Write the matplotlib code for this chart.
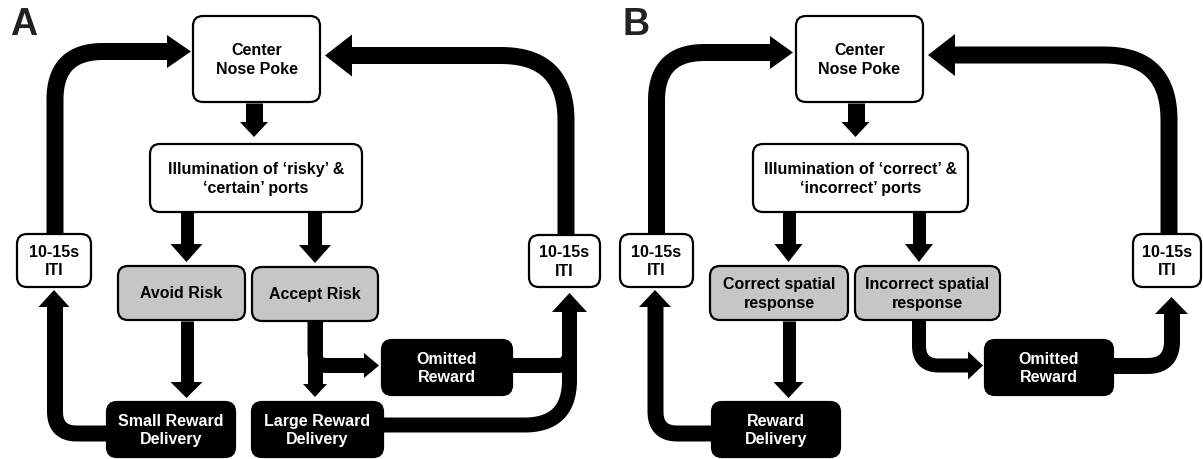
import matplotlib.pyplot as plt
from matplotlib.patches import FancyBboxPatch, Polygon
import numpy as np

plt.rcParams['font.family'] = ['Liberation Sans', 'DejaVu Sans']

W, H = 1203, 459
GRAY = '#c6c6c6'

# box labels, panel A and panel B
labels_a = ["Center\nNose Poke", "Illumination of \u2018risky\u2019 &\n\u2018certain\u2019 ports",
            "Avoid Risk", "Accept Risk", "Small Reward\nDelivery", "Large Reward\nDelivery",
            "Omitted\nReward", "10-15s\nITI", "10-15s\nITI"]
labels_b = ["Center\nNose Poke", "Illumination of \u2018correct\u2019 &\n\u2018incorrect\u2019 ports",
            "Correct spatial\nresponse", "Incorrect spatial\nresponse", "Reward\nDelivery",
            "Omitted\nReward", "10-15s\nITI", "10-15s\nITI"]
panel_letters = ["A", "B"]

fig = plt.figure(figsize=(W / 100, H / 100), dpi=100)
ax = fig.add_axes([0, 0, 1, 1])
ax.set_xlim(0, W)
ax.set_ylim(H, 0)
ax.axis('off')


def box(x0, y0, x1, y1, text, fill='white'):
    p = FancyBboxPatch((x0, y0), x1 - x0, y1 - y0,
                       boxstyle="round,pad=0,rounding_size=10",
                       fc=fill, ec='black', lw=1.6, zorder=3)
    ax.add_patch(p)
    tc = 'white' if fill == 'black' else 'black'
    ax.text((x0 + x1) / 2, (y0 + y1) / 2 + 1, text, ha='center', va='center',
            fontsize=11.5, fontweight='bold', color=tc, linespacing=1.3, zorder=4)


def head(tip, direction, length, width):
    d = np.array(direction, float)
    d /= np.linalg.norm(d)
    n = np.array([-d[1], d[0]])
    t = np.array(tip, float)
    b = t - d * length
    pts = [t, b + n * width / 2, b - n * width / 2]
    ax.add_patch(Polygon(pts, closed=True, fc='black', ec='none', zorder=2))


def band(points, r, w):
    # thick polyline with rounded corners
    pts = [np.array(p, float) for p in points]
    out = [pts[0]]
    for i in range(1, len(pts) - 1):
        a, p, b = pts[i - 1], pts[i], pts[i + 1]
        u1 = (p - a) / np.linalg.norm(p - a)
        u2 = (b - p) / np.linalg.norm(b - p)
        s = p - u1 * r
        e = p + u2 * r
        for t in np.linspace(0, 1, 25):
            out.append((1 - t) ** 2 * s + 2 * (1 - t) * t * p + t ** 2 * e)
    out.append(pts[-1])
    out = np.array(out)
    ax.plot(out[:, 0], out[:, 1], color='black', lw=w * 0.72,
            solid_capstyle='butt', solid_joinstyle='round', zorder=2)


def down(x, y0, tip, sw, hl, hw):
    band([(x, y0), (x, tip - hl + 1)], 0, sw)
    head((x, tip), (0, 1), hl, hw)


# ---------- panel A ----------
box(193, 16, 320, 102, labels_a[0])
box(150, 144, 362, 212, labels_a[1])
box(118, 266, 245, 320, labels_a[2], GRAY)
box(252, 267, 378, 321, labels_a[3], GRAY)
box(107, 402, 235, 457, labels_a[4], 'black')
box(252, 402, 383, 457, labels_a[5], 'black')
box(382, 340, 512, 395, labels_a[6], 'black')
box(17, 234, 91, 287, labels_a[7])
box(529, 235, 600, 287, labels_a[8])

down(254, 103, 137, 17, 15, 28)
down(186.5, 212, 262, 13, 18, 32)
down(315, 212, 263, 14, 18, 32)
down(186.5, 321, 398, 13, 16, 32)
down(315, 321, 397, 15, 13, 24)
band([(315, 322), (315, 365.5), (364, 365.5)], 12, 15)
head((379, 365.5), (1, 0), 15, 25)
band([(512, 365.5), (569.5, 365.5), (569.5, 310)], 12, 15)
band([(383, 425), (569.5, 425), (569.5, 310)], 45, 15)
head((569.5, 293), (0, -1), 19, 35)
band([(107, 433.5), (55, 433.5), (55, 306)], 22, 16)
head((54, 290), (0, -1), 17, 31)
band([(55, 234), (55, 51.5), (168, 51.5)], 48, 17)
head((191, 51.5), (1, 0), 24, 33)
band([(566, 235), (566, 55.5), (351, 55.5)], 65, 17)
head((325, 55.5), (-1, 0), 27, 42)

# ---------- panel B ----------
box(796, 16, 923, 102, labels_b[0])
box(753, 144, 968, 212, labels_b[1])
box(710, 266, 848, 320, labels_b[2], GRAY)
box(855, 266, 1000, 320, labels_b[3], GRAY)
box(712, 402, 840, 457, labels_b[4], 'black')
box(985, 340, 1113, 395, labels_b[5], 'black')
box(620, 234, 693, 287, labels_b[6])
box(1133, 234, 1201, 287, labels_b[7])

down(855.5, 103, 137, 17, 15, 28)
down(788.5, 212, 262, 13, 18, 28)
down(919, 212, 262, 13, 18, 28)
down(788.5, 321, 398, 13, 16, 30)
band([(919, 321), (919, 365.5), (969, 365.5)], 20, 14)
head((983, 365.5), (1, 0), 15, 28)
band([(1113, 366), (1172, 366), (1172, 312)], 25, 16)
head((1171.5, 297), (0, -1), 17, 33)
band([(712, 433.5), (655.5, 433.5), (655.5, 306)], 22, 16)
head((655, 290), (0, -1), 17, 32)
band([(656.5, 234), (656.5, 52.5), (771, 52.5)], 48, 17)
head((793, 52.5), (1, 0), 23, 33)
band([(1169, 234), (1169, 55), (954, 55)], 65, 17)
head((928, 55), (-1, 0), 27, 42)

ax.text(24, 25, panel_letters[0], ha='center', va='center', fontsize=27, fontweight='bold', color='#222222')
ax.text(636, 25, panel_letters[1], ha='center', va='center', fontsize=27, fontweight='bold', color='#222222')

fig.savefig('out.png', dpi=100)
